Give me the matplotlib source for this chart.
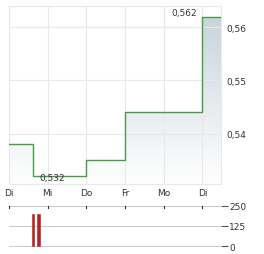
import matplotlib.pyplot as plt
import numpy as np
from matplotlib.colors import LinearSegmentedColormap

# price series (x in trading days from first "Di")
price_x = [0.0, 0.62, 2.0, 3.0, 4.99, 5.48]
price_y = [0.538, 0.532, 0.535, 0.544, 0.562, 0.562]
day_labels = ['Di', 'Mi', 'Do', 'Fr', 'Mo', 'Di']
y_ticks = [0.54, 0.55, 0.56]

# volume bars
vol_x = [0.62, 0.76]
vol_y = [200, 200]
vol_w = [0.035, 0.08]
vol_ticks = [0, 125, 250]

grid_c = '#e8e8e8'
txt_c = '#333333'
fs = 6.5

fig = plt.figure(figsize=(2.64, 2.55), dpi=100)
ax = fig.add_axes([9 / 264, 1 - 185 / 255, 212 / 264, 178 / 255])
ymin, ymax = 0.5305, 0.564
xmax = price_x[-1]

# gradient fill under the step line
grad = np.linspace(0, 1, 256).reshape(-1, 1)
cmap = LinearSegmentedColormap.from_list('g', ['#ffffff', '#c5d1da'])
img = ax.imshow(grad, cmap=cmap, origin='lower', aspect='auto',
                extent=[0, xmax, ymin, ymax], zorder=1)
xs = np.repeat(price_x, 2)[1:]
ys = np.repeat(price_y, 2)[:-1]
poly = ax.fill_between(xs, ys, ymin, color='none')
img.set_clip_path(poly.get_paths()[0], transform=ax.transData)
ax.step(price_x, price_y, where='post', color='#4a9a4a', lw=1.0, zorder=3)

ax.set_xlim(0, xmax)
ax.set_ylim(ymin, ymax)
ax.set_xticks(range(6))
ax.set_xticklabels(day_labels)
ax.set_yticks(y_ticks)
ax.set_yticklabels([f'{v:.2f}'.replace('.', ',') for v in y_ticks])
ax.yaxis.tick_right()
ax.tick_params(length=0, labelsize=fs, labelcolor=txt_c, pad=4)
ax.tick_params(axis='x', pad=3)
ax.grid(True, color=grid_c, lw=0.8, zorder=0)
for s in ax.spines.values():
    s.set_color(grid_c)
    s.set_linewidth(0.8)

ax.text(4.87, 0.562, '0,562', fontsize=fs, color=txt_c, ha='right', va='bottom')
ax.text(0.78, 0.5318, '0,532', fontsize=fs, color=txt_c, ha='left', va='center')

# volume panel
vx = fig.add_axes([9 / 264, 1 - 248 / 255, 212 / 264, 42 / 255])
vx.bar(vol_x, vol_y, width=vol_w, color='#b22222', edgecolor='#b22222',
       linewidth=0.4, zorder=2)
vx.set_xlim(0, xmax)
vx.set_ylim(-6, 256)
vx.set_yticks(vol_ticks)
vx.set_yticklabels([str(v) for v in vol_ticks])
vx.yaxis.tick_right()
vx.tick_params(axis='y', length=5, width=0.8, color='#555555',
               labelsize=fs, labelcolor=txt_c, pad=1)
vx.set_xticks(range(6))
vx.tick_params(axis='x', top=False, bottom=False, labeltop=False,
               labelbottom=False)
vx.grid(True, axis='y', color='#cccccc', lw=0.8, zorder=0)
for s in vx.spines.values():
    s.set_visible(False)
# small day ticks hanging from the 250 line
for d in range(6):
    vx.plot([d, d], [250, 236], color='#333333', lw=0.8, zorder=3)

fig.savefig('out.png', dpi=100)
